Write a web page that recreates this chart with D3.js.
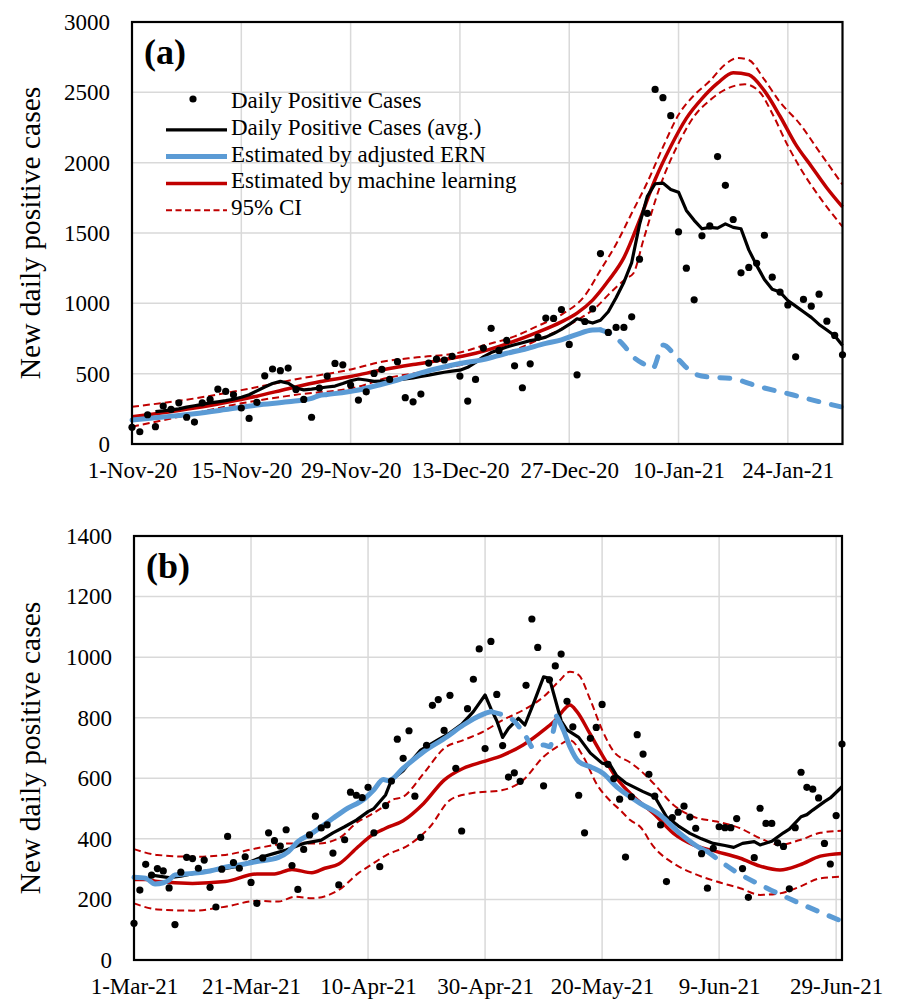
<!DOCTYPE html>
<html>
<head>
<meta charset="utf-8">
<script src="https://cdn.jsdelivr.net/npm/d3@7"></script>
<style>
  body { margin: 0; background: #fff; }
  text { font-family: "Liberation Serif", "Times New Roman", serif; }
</style>
</head>
<body>
<div id="chart"></div>
<script>
// ---------- panel (a): 1-Nov-20 .. 31-Jan-21 ----------
var startA = "1-Nov-20", endA = "31-Jan-21";
var xTicksA = ["1-Nov-20", "15-Nov-20", "29-Nov-20", "13-Dec-20", "27-Dec-20", "10-Jan-21", "24-Jan-21"];
var yTicksA = [0, 500, 1000, 1500, 2000, 2500, 3000];

// daily positive cases, one per day from startA
var casesA = [119, 87, 208, 123, 270, 246, 293, 190, 156, 293, 317, 390, 374, 350, 256, 182, 296, 485, 533, 521,
  540, 388, 317, 190, 398, 483, 573, 563, 419, 312, 371, 502, 530, 459, 585, 329, 300, 355, 575, 604,
  597, 623, 483, 305, 459, 682, 822, 665, 736, 556, 400, 570, 760, 895, 893, 956, 708, 492, 871, 961,
  1354, 793, 829, 829, 904, 1314, 1640, 2521, 2462, 2334, 1508, 1250, 1025, 1480, 1550, 2043, 1839, 1596, 1217, 1255,
  1285, 1484, 1186, 1080, 989, 620, 1028, 980, 1065, 873, 772, 634];

// [day, value] readings
var avgA = [[3,230],[4,235],[5,242],[6,250],[7,262],[8,272],[9,282],[10,292],[11,300],[12,308],[13,318],[14,332],
  [15,350],[16,378],[17,405],[18,430],[19,445],[20,432],[21,398],[22,385],[23,390],[24,398],[25,405],[26,412],
  [27,430],[28,450],[29,462],[30,455],[31,445],[32,448],[33,445],[34,455],[35,462],[36,470],[37,480],[38,490],
  [39,500],[40,510],[41,518],[42,525],[43,545],[44,580],[45,620],[46,650],[47,670],[48,690],[49,705],[50,720],
  [51,735],[52,745],[53,760],[54,785],[55,815],[56,850],[57,890],[58,875],[59,860],[60,880],[61,940],[62,1040],
  [63,1150],[64,1290],[65,1560],[66,1760],[67,1850],[68,1855],[69,1810],[70,1790],[71,1660],[72,1590],[73,1530],
  [74,1540],[75,1535],[76,1565],[77,1540],[78,1530],[79,1380],[80,1270],[81,1170],[82,1100],[83,1080],[84,1020],
  [85,980],[86,940],[87,900],[88,850],[89,810],[90,770],[91,700]];
var ernA = [[0,170],[4,192],[8,215],[12,245],[16,277],[20,300],[23,324],[24,345],[25,352],[29,384],[32,425],
  [34,455],[37,505],[39,535],[42,572],[45,600],[48,645],[50,670],[53,715],[55,740],[57,780],[59,810],[60,812],
  [61.6,774],[63,700],[64.2,620],[65.5,570],[66.7,538],[68,703],[70,600],[72,500],[74,475],[76.6,467],
  [80.4,407],[84.7,348],[87.2,312],[91,262]];
var ernBreaksA = [60];
var mlA = [[0,194],[4,222],[8,255],[12,295],[16,340],[20,393],[24,443],[28,480],[32,526],[36,565],[40,600],
  [44,645],[48,712],[52,795],[55,868],[57,930],[59,1023],[61,1160],[63,1325],[65,1590],[67,1880],[69,2115],
  [71,2315],[73,2455],[75,2565],[77,2640],[79,2625],[81,2510],[83,2330],[85,2130],[87,1975],[89,1820],[91,1685]];
var upperA = [[0,265],[7,315],[14,383],[21,460],[28,530],[32,585],[37,618],[42,650],[45,700],[49,765],[52,840],
  [55,920],[58,1055],[60,1236],[62,1420],[64,1640],[66,1860],[68,2110],[70,2340],[72,2480],[74,2580],[76,2700],
  [77.6,2744],[79,2730],[81,2590],[83,2430],[85.5,2278],[88,2080],[91,1845]];
var lowerA = [[0,123],[7,205],[14,289],[21,350],[29,407],[32,460],[37,510],[42,561],[45,600],[49,668],[52,740],
  [55,818],[57,880],[59.5,975],[61,1060],[63.3,1177],[64.2,1212],[65.5,1450],[67.6,1827],[70.2,2159],[72,2330],
  [74,2443],[76,2520],[78.5,2557],[80.5,2495],[82,2350],[84,2120],[85.5,1970],[88,1760],[91,1545]];

// ---------- panel (b): 1-Mar-21 .. 30-Jun-21 ----------
var startB = "1-Mar-21", endB = "30-Jun-21";
var xTicksB = ["1-Mar-21", "21-Mar-21", "10-Apr-21", "30-Apr-21", "20-May-21", "9-Jun-21", "29-Jun-21"];
var yTicksB = [0, 200, 400, 600, 800, 1000, 1200, 1400];

var casesB = [121, 231, 316, 280, 302, 294, 238, 117, 290, 339, 335, 303, 330, 240, 175, 300, 408, 322, 303, 341,
  256, 187, 337, 420, 394, 376, 430, 312, 233, 365, 413, 475, 436, 446, 353, 248, 397, 554, 544, 536,
  570, 420, 308, 510, 591, 729, 666, 757, 541, 405, 709, 841, 860, 758, 874, 633, 426, 830, 927, 1027,
  698, 1052, 877, 708, 604, 618, 590, 907, 1126, 1032, 575, 925, 971, 1010, 854, 770, 544, 420, 732, 768,
  844, 646, 599, 531, 340, 539, 744, 680, 613, 541, 446, 259, 470, 488, 508, 472, 435, 351, 237, 369,
  440, 437, 437, 467, 302, 207, 338, 501, 451, 451, 387, 375, 235, 437, 620, 570, 564, 535, 385, 317,
  477, 713];

var avgB = [[3,280],[6,272],[8,277],[12,293],[15,300],[18,311],[20,325],[22,341],[24,352],[26,363],[29,385],
  [32,396],[34,420],[36,440],[38,462],[40,490],[41,500],[43,545],[44,594],[46,625],[47,649],[49,693],[52,728],
  [54,750],[56,778],[58,820],[60,875],[61,830],[62,790],[63,735],[64,765],[65.7,798],[66.8,776],[68.3,848],
  [70,935],[71,930],[72,860],[73,790],[74,760],[76,735],[78,683],[80,650],[81.4,644],[82.5,608],[84,585],
  [87,556],[89,539],[91,473],[93,443],[95,418],[97,400],[99,385],[101,378],[102.5,372],[104,385],[106,391],
  [107,380],[109,392],[111,420],[112,432],[114,473],[115,480],[116,495],[118,523],[119,535],[121,572]];
var ernB = [[0,273],[2,270],[3.6,251],[5,255],[6,264],[7,281],[10,286],[13,294],[16,308],[18,314],[21,325],
  [24.7,339],[26.4,358],[28,391],[30.4,418],[32,440],[34,468],[36,495],[39.5,534],[41,562],[42.6,596],[43.5,592],
  [46,633],[49.5,688],[53.5,737],[56.3,776],[59.7,812],[61,820],[63,809],[64.8,792],[67,737],[68.3,699],[70,710],
  [71.1,704],[71.7,759],[72.2,805],[73.4,759],[74.5,704],[76,655],[78,638],[80.2,616],[82.5,572],[84.8,539],
  [86.5,517],[89.9,479],[93.3,418],[96.8,369],[98,358],[102.4,297],[108.2,237],[113.8,187],[121,128]];
var ernBreaksB = [61, 72.2, 98];
var mlB = [[0,266],[2,266],[4,259],[10,253],[15.6,259],[21,284],[24,284],[27,299],[30.4,288],[32.6,303],[35,317],
  [38.3,374],[40.5,410],[43,435],[46,460],[49.5,517],[53,594],[56.3,633],[59.7,655],[63,676],[66.5,710],[70,759],
  [72.3,798],[73.4,825],[74.5,842],[75.7,820],[77.9,748],[80.2,671],[82.5,600],[85.4,539],[88.8,484],[92.2,418],
  [95.6,380],[99.6,358],[103.6,336],[107,310],[110.4,297],[113.8,314],[117.3,343],[121,352]];
var upperB = [[0,366],[4,347],[10,341],[15.6,347],[21,369],[27,385],[31.5,385],[35,402],[38.3,457],[40.5,480],
  [43,512],[44,528],[46,539],[49.5,616],[53,699],[56.3,726],[59.7,754],[63,792],[66.5,825],[70,869],[72.8,924],
  [74.5,952],[76,941],[78,858],[80,760],[82,688],[84.8,652],[86,635],[88.8,583],[92.2,512],[95.6,473],[99.6,457],
  [103.6,435],[107,402],[110.4,380],[113.8,396],[117.3,420],[121,427]];
var lowerB = [[0,187],[4,167],[10,163],[15.6,176],[21,195],[24.7,193],[27.5,209],[30.4,204],[35,231],[38.3,286],
  [40.5,314],[43,345],[47,380],[50.6,440],[54,528],[57.4,550],[63,561],[66.5,594],[70,671],[72.3,704],[74.5,726],
  [76.8,671],[79.1,580],[81.4,525],[83.1,495],[84.8,462],[86.5,440],[88.8,374],[92.2,319],[95.6,286],[99.6,259],
  [103.6,237],[107,215],[110.4,220],[113.8,242],[117.3,270],[121,275]];

// ---------- drawing ----------
var W = 897, H = 1002;
var parseDate = d3.utcParse("%d-%b-%y");
var gridColor = "#d9d9d9", blue = "#5b9bd5", red = "#c00000";

var svg = d3.select("#chart").append("svg")
  .attr("width", W).attr("height", H);
svg.append("rect").attr("width", W).attr("height", H).attr("fill", "#fff");

function dayToDate(start, day) {
  return new Date(start.getTime() + day * 864e5);
}

// split a line at the given days; every other piece is dashed
function splitLine(points, breaks) {
  var cuts = [-Infinity].concat(breaks, [Infinity]);
  var out = [];
  for (var i = 0; i < cuts.length - 1; i++) {
    out.push({
      dashed: i % 2 === 1,
      pts: points.filter(function(p) { return p[0] >= cuts[i] && p[0] <= cuts[i + 1]; })
    });
  }
  return out;
}

function drawPanel(cfg) {
  var start = parseDate(cfg.start), end = parseDate(cfg.end);
  var x = d3.scaleUtc().domain([start, end]).range([cfg.left, cfg.right]);
  var y = d3.scaleLinear().domain([0, d3.max(cfg.yTicks)]).range([cfg.bottom, cfg.top]);
  var g = svg.append("g");

  // gridlines
  g.selectAll(".hgrid").data(cfg.yTicks.slice(1)).enter().append("line")
    .attr("x1", cfg.left).attr("x2", cfg.right)
    .attr("y1", function(d) { return y(d); }).attr("y2", function(d) { return y(d); })
    .attr("stroke", gridColor).attr("stroke-width", 1.5);
  g.selectAll(".vgrid").data(cfg.xTicks.slice(1)).enter().append("line")
    .attr("x1", function(d) { return x(parseDate(d)); }).attr("x2", function(d) { return x(parseDate(d)); })
    .attr("y1", cfg.top).attr("y2", cfg.bottom)
    .attr("stroke", gridColor).attr("stroke-width", 1.5);

  // axes
  var yAxis = g.append("g")
    .attr("transform", "translate(" + cfg.left + ",0)")
    .call(d3.axisLeft(y).tickValues(cfg.yTicks).tickSize(0).tickPadding(22).tickFormat(d3.format("d")));
  var xAxis = g.append("g")
    .attr("transform", "translate(0," + cfg.bottom + ")")
    .call(d3.axisBottom(x).tickValues(cfg.xTicks.map(parseDate)).tickSize(0).tickPadding(18)
      .tickFormat(function(d, i) { return cfg.xTicks[i]; }));
  [xAxis, yAxis].forEach(function(a) {
    a.select(".domain").remove();
    a.selectAll("text").attr("font-family", "Liberation Serif").attr("font-size", 23).attr("fill", "#000");
  });

  var line = function(curve) {
    return d3.line()
      .x(function(p) { return x(dayToDate(start, p[0])); })
      .y(function(p) { return y(p[1]); })
      .curve(curve);
  };
  var smooth = line(d3.curveMonotoneX), straight = line(d3.curveLinear);

  // 95% CI
  [cfg.upper, cfg.lower].forEach(function(s) {
    g.append("path").attr("d", smooth(s)).attr("fill", "none")
      .attr("stroke", red).attr("stroke-width", 2).attr("stroke-dasharray", "7,4");
  });
  // machine learning
  g.append("path").attr("d", smooth(cfg.ml)).attr("fill", "none")
    .attr("stroke", red).attr("stroke-width", 3.5);
  // average
  g.append("path").attr("d", straight(cfg.avg)).attr("fill", "none")
    .attr("stroke", "#000").attr("stroke-width", 3.2).attr("stroke-linejoin", "round");
  // adjusted ERN
  splitLine(cfg.ern, cfg.ernBreaks).forEach(function(seg) {
    g.append("path").attr("d", smooth(seg.pts)).attr("fill", "none")
      .attr("stroke", blue).attr("stroke-width", 5)
      .attr("stroke-linecap", "round")
      .attr("stroke-dasharray", seg.dashed ? "10,13" : null);
  });
  // daily dots
  g.selectAll(".dot").data(cfg.cases).enter().append("circle")
    .attr("cx", function(d, i) { return x(dayToDate(start, i)); })
    .attr("cy", function(d) { return y(d); })
    .attr("r", 3.6).attr("fill", "#000");

  // frame
  g.append("rect")
    .attr("x", cfg.left).attr("y", cfg.top)
    .attr("width", cfg.right - cfg.left).attr("height", cfg.bottom - cfg.top)
    .attr("fill", "none").attr("stroke", "#000").attr("stroke-width", 2.2);

  // labels
  g.append("text").attr("x", cfg.left + 12).attr("y", cfg.top + 42)
    .attr("font-size", 36).attr("font-weight", "bold").text(cfg.label);
  g.append("text")
    .attr("transform", "translate(40," + ((cfg.top + cfg.bottom) / 2) + ") rotate(-90)")
    .attr("text-anchor", "middle").attr("font-size", 29.5)
    .text("New daily positive cases");
}

drawPanel({
  label: "(a)", start: startA, end: endA, xTicks: xTicksA, yTicks: yTicksA,
  left: 132, right: 842.5, top: 22, bottom: 444,
  cases: casesA, avg: avgA, ern: ernA, ernBreaks: ernBreaksA, ml: mlA, upper: upperA, lower: lowerA
});
drawPanel({
  label: "(b)", start: startB, end: endB, xTicks: xTicksB, yTicks: yTicksB,
  left: 134, right: 842, top: 536, bottom: 960,
  cases: casesB, avg: avgB, ern: ernB, ernBreaks: ernBreaksB, ml: mlB, upper: upperB, lower: lowerB
});

// legend (panel a)
var legendItems = [
  {name: "Daily Positive Cases", type: "dot"},
  {name: "Daily Positive Cases (avg.)", type: "line", color: "#000", width: 3.2},
  {name: "Estimated by adjusted ERN", type: "line", color: blue, width: 5},
  {name: "Estimated by machine learning", type: "line", color: red, width: 3.5},
  {name: "95% CI", type: "line", color: red, width: 2, dash: "6,3.5"}
];
var legend = svg.append("g").attr("transform", "translate(166,108)");
legendItems.forEach(function(it, i) {
  var row = legend.append("g").attr("transform", "translate(0," + (i * 26.8) + ")");
  if (it.type === "dot") {
    row.append("circle").attr("cx", 27).attr("cy", -9).attr("r", 3.6).attr("fill", "#000");
  } else {
    row.append("line").attr("x1", 0).attr("x2", 61).attr("y1", -5).attr("y2", -5)
      .attr("stroke", it.color).attr("stroke-width", it.width)
      .attr("stroke-dasharray", it.dash || null);
  }
  row.append("text").attr("x", 65).attr("y", 0).attr("font-size", 23).text(it.name);
});
</script>
</body>
</html>
